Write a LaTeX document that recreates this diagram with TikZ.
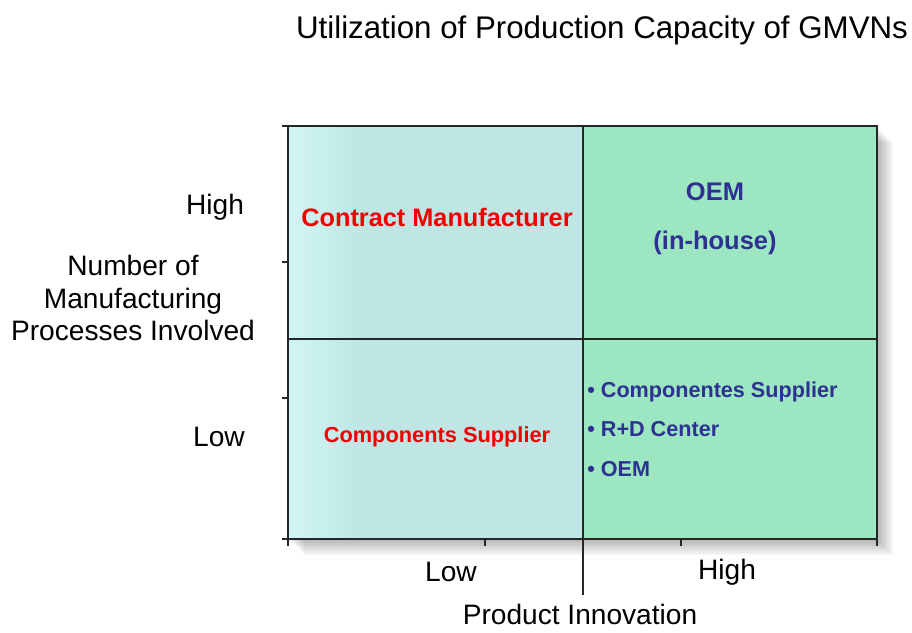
\documentclass[tikz,border=0pt]{standalone}
\usepackage{fontspec}
\setmainfont{Liberation Sans}
\definecolor{leftfill}{HTML}{BFE5E5}
\definecolor{lefttop}{HTML}{D2F6F6}
\definecolor{rightfill}{HTML}{9CE6C1}
\definecolor{redtext}{HTML}{F20000}
\definecolor{bluetext}{HTML}{2E3192}
\tikzstyle{titletext} = [font=\fontsize{17.8}{21}\selectfont, text=black]
\tikzstyle{axislabel} = [font=\fontsize{16}{18.6}\selectfont, text=black, align=center]
\tikzstyle{redlabel} = [font=\fontsize{14.4}{17}\selectfont\bfseries, text=redtext]
\tikzstyle{redsmall} = [font=\fontsize{12.4}{15}\selectfont\bfseries, text=redtext]
\tikzstyle{bluelabel} = [font=\fontsize{14.5}{28}\selectfont\bfseries, text=bluetext, align=center]
\tikzstyle{bulletlist} = [font=\fontsize{12.3}{22.5}\selectfont\bfseries, text=bluetext, align=left, inner sep=0pt]
\tikzstyle{gridline} = [draw=black!85, line width=0.9pt]

\begin{document}
\begin{tikzpicture}[x=0.02cm, y=-0.02cm]
\useasboundingbox (0,0) rectangle (912,632);

% soft shadow behind the matrix
\foreach \s in {2,4,...,16}
  \fill[black, opacity=0.04] (288+\s,126+\s) rectangle (877+\s,539+\s);

% quadrants
\shade[left color=lefttop, right color=leftfill] (288,126) rectangle (360,539);
\fill[leftfill] (359,126) rectangle (583,539);
\fill[rightfill] (583,126) rectangle (877,539);

% grid and axes
\draw[gridline] (288,126) rectangle (877,539);
\draw[gridline] (288,339) -- (877,339);
\draw[gridline] (583,126) -- (583,539);
\draw[black!85, line width=0.6pt] (583,539) -- (583,595);
\foreach \y in {126,262,398,539}
  \draw[gridline] (282,\y) -- (288,\y);
\foreach \x in {288,485,681,877}
  \draw[gridline] (\x,539) -- (\x,546);

% title and axis labels
\node(title)  [titletext] at (602,30) {Utilization of Production Capacity of GMVNs};
\node(yhigh)  [axislabel] at (215,207) {High};
\node(ytitle) [axislabel] at (133,298) {Number of\\Manufacturing\\Processes Involved};
\node(ylow)   [axislabel] at (219,437) {Low};
\node(xlow)   [axislabel] at (451,572) {Low};
\node(xhigh)  [axislabel] at (727,572) {High};
\node(xtitle) [axislabel] at (580,614) {Product Innovation};

% quadrant texts
\node(contract) [redlabel] at (437,217) {Contract Manufacturer};
\node(compsup)  [redsmall] at (437,437) {Components Supplier};
\node(oem)      [bluelabel] at (715,219) {OEM\\(in-house)};
\node(bullets)  [bulletlist, anchor=west] at (587,429) {\textbullet\ Componentes Supplier\\\textbullet\ R+D Center\\\textbullet\ OEM};

\end{tikzpicture}
\end{document}
